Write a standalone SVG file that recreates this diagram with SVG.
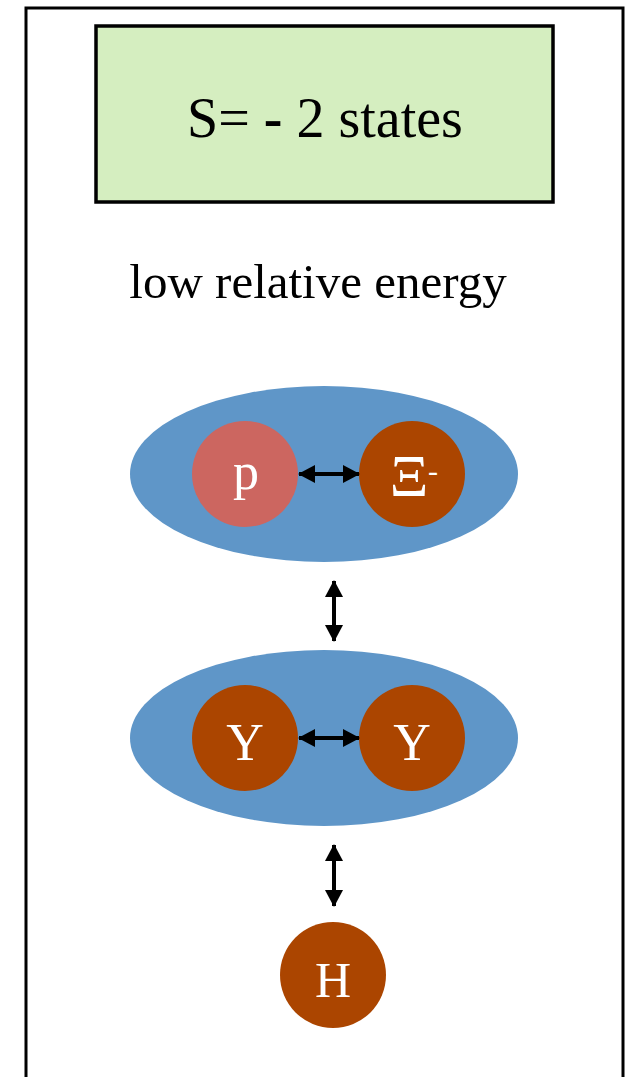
<svg xmlns="http://www.w3.org/2000/svg" width="635" height="1077" viewBox="0 0 635 1077">
<style>
.t{font-family:"Liberation Serif",serif;fill:#000}
.w{font-family:"Liberation Serif",serif;fill:#fff;text-anchor:middle}
.ell{fill:#5F96C8}
.dk{fill:#AB4500}
.ar{stroke:#000;stroke-width:4;fill:none;marker-start:url(#ah);marker-end:url(#ah)}
</style>
<defs>
<marker id="ah" viewBox="0 0 17 18" refX="16" refY="9" markerWidth="17" markerHeight="18" orient="auto-start-reverse" markerUnits="userSpaceOnUse">
<path d="M0,0 L17,9 L0,18 z" fill="#000"/>
</marker>
</defs>
<rect x="26" y="8" width="597" height="1080" fill="#fff" stroke="#000" stroke-width="3"/>
<g id="title">
<rect x="96" y="26" width="457" height="176" fill="#D5EEC0" stroke="#000" stroke-width="3.5"/>
<text class="t" x="325" y="137" font-size="56" text-anchor="middle">S= <tspan font-weight="bold">-</tspan> 2 states</text>
</g>
<text class="t" x="318" y="298" font-size="49" text-anchor="middle">low relative energy</text>
<g id="pXi">
<ellipse class="ell" cx="324" cy="474" rx="194" ry="88"/>
<circle cx="245" cy="474" r="53" fill="#CC6660"/>
<text class="w" x="246" y="489" font-size="52">p</text>
<circle class="dk" cx="412" cy="474" r="53"/>
<text class="w" x="409" y="496" font-size="60">Ξ</text>
<text class="w" x="433" y="481" font-size="30">-</text>
</g>
<g id="YY">
<ellipse class="ell" cx="324" cy="738" rx="194" ry="88"/>
<circle class="dk" cx="245" cy="738" r="53"/>
<text class="w" x="245" y="760" font-size="52">Y</text>
<circle class="dk" cx="412" cy="738" r="53"/>
<text class="w" x="412" y="760" font-size="52">Y</text>
</g>
<g id="H">
<circle class="dk" cx="333" cy="975" r="53"/>
<text class="w" x="333" y="997" font-size="50">H</text>
</g>
<g id="connectors">
<line class="ar" x1="299" y1="474" x2="359" y2="474"/>
<line class="ar" x1="299" y1="738" x2="359" y2="738"/>
<line class="ar" x1="334" y1="581" x2="334" y2="641"/>
<line class="ar" x1="334" y1="845" x2="334" y2="906"/>
</g>
</svg>
